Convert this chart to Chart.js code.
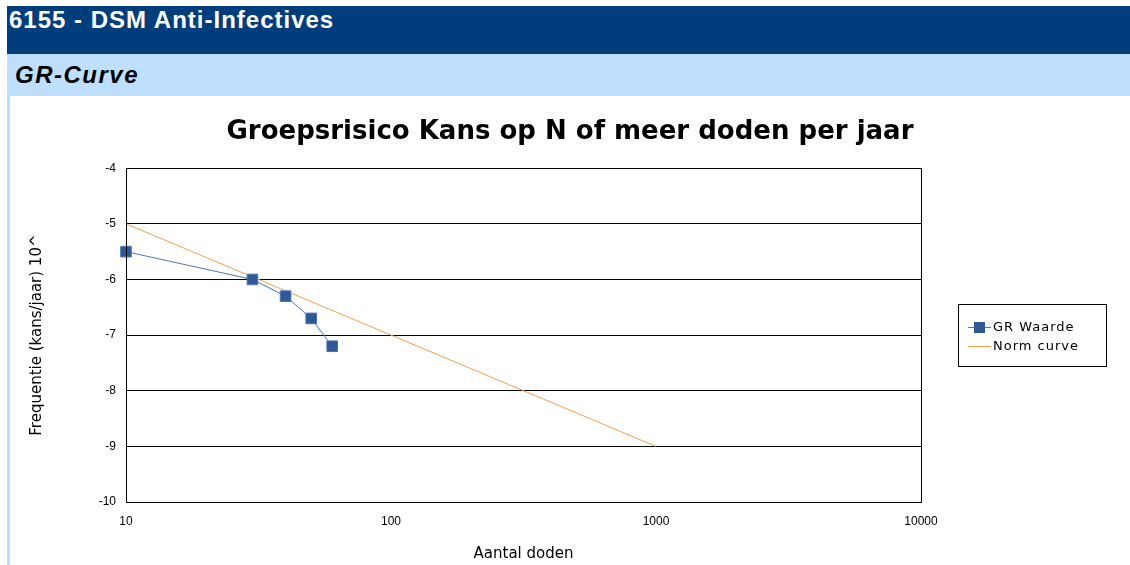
<!DOCTYPE html>
<html>
<head>
<meta charset="utf-8">
<script src="https://cdn.jsdelivr.net/npm/chart.js@4.4.1/dist/chart.umd.min.js"></script>
<style>
  body { margin: 0; background: #fff; font-family: Arial, "Liberation Sans", sans-serif; }
  #page { position: relative; width: 1130px; height: 565px; overflow: hidden; }
  #kop { position: absolute; left: 7px; top: 6px; width: 1123px; height: 48px; background: #003d7c; color: #fff;
         font-weight: bold; font-size: 24px; line-height: 28px; padding-left: 2px; letter-spacing: 1px; box-sizing: border-box; }
  #sub { position: absolute; left: 7px; top: 54px; width: 1123px; height: 42px; background: #bfdfff; color: #000;
         font-weight: bold; font-style: italic; font-size: 24px; line-height: 42px; padding-left: 8px; letter-spacing: 1.5px; box-sizing: border-box; }
  #rand { position: absolute; left: 7px; top: 96px; width: 3px; height: 469px; background: #bfdfff; }
  #wrap { position: absolute; left: 10px; top: 96px; width: 1120px; height: 469px; }
</style>
</head>
<body>
<div id="page">
  <div id="kop">6155 - DSM Anti-Infectives</div>
  <div id="sub">GR-Curve</div>
  <div id="rand"></div>
  <div id="wrap"><canvas id="myChart" width="1120" height="469"></canvas></div>
</div>
<script>
// GR waarde (N doden, log10 frequentie)
const grDoden = [10, 30, 40, 50, 60];
const grWaarde = [-5.5, -6.0, -6.3, -6.7, -7.2];
// normlijn
const normDoden = [10, 100, 1000];
const normWaarde = [-5, -7, -9];
const xTicks = [10, 100, 1000, 10000];

const asFont = { family: "'DejaVu Sans'", size: 15 };

// kader om de plot + legenda met rand
const kaderPlugin = {
    id: "kader",
    afterDraw(chart) {
        const c = chart.ctx;
        const a = chart.chartArea;
        c.save();
        c.strokeStyle = "#000";
        c.lineWidth = 1;
        c.strokeRect(Math.round(a.left) + 0.5, Math.round(a.top) + 0.5, Math.round(a.right - a.left), Math.round(a.bottom - a.top));

        // legenda
        const lx = 948, ly = 208, lw = 148, lh = 62;
        c.strokeRect(lx + 0.5, ly + 0.5, lw, lh);
        c.font = "13px 'DejaVu Sans'";
        c.letterSpacing = "1px";
        c.textBaseline = "middle";
        const ds = chart.data.datasets;
        // GR Waarde
        c.strokeStyle = ds[0].borderColor;
        c.beginPath();
        c.moveTo(lx + 10, ly + 23.5);
        c.lineTo(lx + 33, ly + 23.5);
        c.stroke();
        c.fillStyle = ds[0].pointBackgroundColor;
        c.fillRect(lx + 16, ly + 18, 11, 11);
        c.fillStyle = "#000";
        c.fillText(ds[0].label, lx + 35, ly + 24);
        // Norm curve
        c.strokeStyle = ds[1].borderColor;
        c.beginPath();
        c.moveTo(lx + 10, ly + 42.5);
        c.lineTo(lx + 33, ly + 42.5);
        c.stroke();
        c.fillText(ds[1].label, lx + 35, ly + 43);
        c.restore();
    }
};

const ctx = document.getElementById("myChart").getContext("2d");
const myChart = new Chart(ctx, {
    type: "scatter",
    data: {
        datasets: [
            {
                label: "GR Waarde",
                data: grDoden.map((n, i) => ({ x: n, y: grWaarde[i] })),
                showLine: true,
                clip: false,
                borderColor: "#4a76b2",
                borderWidth: 1,
                pointStyle: "rect",
                pointRadius: 7.5,
                pointHoverRadius: 7.5,
                pointBackgroundColor: "#2d5a94",
                pointBorderColor: "#4a76b2",
                pointBorderWidth: 1,
            },
            {
                label: "Norm curve",
                data: normDoden.map((n, i) => ({ x: n, y: normWaarde[i] })),
                showLine: true,
                borderColor: "#f5a04a",
                borderWidth: 1,
                pointRadius: 0,
                pointHoverRadius: 0,
            },
        ],
    },
    options: {
        responsive: false,
        animation: false,
        layout: { padding: 0 },
        plugins: {
            legend: { display: false },
            tooltip: { enabled: false },
            title: {
                display: true,
                text: "Groepsrisico Kans op N of meer doden per jaar",
                color: "#000",
                font: { family: "'DejaVu Sans'", size: 26, weight: "bold" },
                padding: { top: 21, bottom: 20 },
            },
        },
        scales: {
            x: {
                type: "logarithmic",
                min: 10,
                max: 10000,
                afterBuildTicks: (s) => { s.ticks = xTicks.map((v) => ({ value: v })); },
                ticks: {
                    color: "#000",
                    font: { family: "Arial, 'Liberation Sans'", size: 12 },
                    padding: 12,
                    maxRotation: 0,
                    callback: (v) => String(v),
                },
                grid: { display: false, drawTicks: false },
                border: { color: "#000", width: 1 },
                title: {
                    display: true,
                    text: "Aantal doden",
                    color: "#000",
                    font: asFont,
                    padding: { top: 4, bottom: 2 },
                },
                afterFit: (s) => { s.height = 63; },
            },
            y: {
                min: -10,
                max: -4,
                ticks: {
                    stepSize: 1,
                    color: "#000",
                    font: { family: "Arial, 'Liberation Sans'", size: 12 },
                    padding: 10,
                },
                grid: { color: "#000", drawTicks: false },
                border: { color: "#000", width: 1 },
                title: {
                    display: true,
                    text: "Frequentie (kans/jaar) 10^",
                    color: "#000",
                    font: asFont,
                    padding: { top: 18, bottom: 0 },
                },
                afterFit: (s) => { s.width = 116; },
            },
            // lege ruimte rechts voor de legenda
            ruimte: {
                position: "right",
                min: 0,
                max: 1,
                ticks: { display: false },
                grid: { display: false, drawTicks: false },
                border: { display: false },
                afterFit: (s) => { s.width = 209; },
            },
        },
    },
    plugins: [kaderPlugin],
});
</script>
</body>
</html>
